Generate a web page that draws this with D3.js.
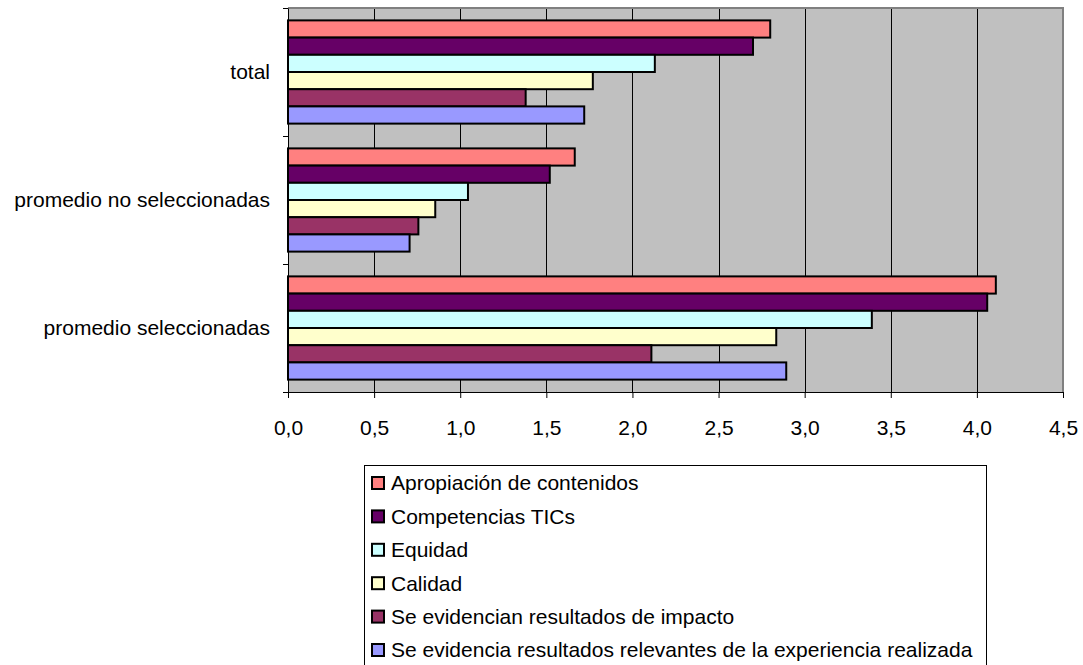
<!DOCTYPE html>
<html>
<head>
<meta charset="utf-8">
<script src="https://cdn.jsdelivr.net/npm/d3@7"></script>
<style>
  body { margin: 0; background: #fff; }
  svg text { font-family: "Liberation Sans", Arial, sans-serif; fill: #000; }
</style>
</head>
<body>
<svg id="drawing_region"></svg>
<script>
// chart data
const categories = ['total', 'promedio no seleccionadas', 'promedio seleccionadas'];
const series = [
    'Apropiación de contenidos',
    'Competencias TICs',
    'Equidad',
    'Calidad',
    'Se evidencian resultados de impacto',
    'Se evidencia resultados relevantes de la experiencia realizada'
];
const apropiacion  = [2.80, 1.665, 4.11];
const competencias = [2.70, 1.52, 4.06];
const equidad      = [2.13, 1.045, 3.39];
const calidad      = [1.77, 0.855, 2.835];
const impacto      = [1.38, 0.757, 2.11];
const relevantes   = [1.72, 0.706, 2.893];
const x_ticks = [0, 0.5, 1, 1.5, 2, 2.5, 3, 3.5, 4, 4.5];
const colors = ['#FF8080', '#660066', '#CCFFFF', '#FFFFCC', '#993366', '#9999FF'];

const values = [apropiacion, competencias, equidad, calidad, impacto, relevantes];

const config = {
    width: 1083,
    height: 665,
    margin: {top: 8, right: 20, bottom: 273, left: 288},
    font: '21px'
};

const svg = d3.select('#drawing_region')
    .attr('width', config.width)
    .attr('height', config.height);

const plot_right = config.width - config.margin.right;
const plot_bottom = config.height - config.margin.bottom;

const xscale = d3.scaleLinear()
    .domain([0, 4.5])
    .range([config.margin.left, plot_right]);

const yscale = d3.scaleBand()
    .domain(categories)
    .range([config.margin.top, plot_bottom])
    .padding(0);

const sscale = d3.scaleBand()
    .domain(series)
    .range([0, yscale.bandwidth()])
    .paddingInner(0)
    .paddingOuter(0.72);

// plot background
svg.append('rect')
    .attr('x', config.margin.left)
    .attr('y', config.margin.top)
    .attr('width', plot_right - config.margin.left)
    .attr('height', plot_bottom - config.margin.top)
    .attr('fill', '#C0C0C0');

// vertical gridlines
svg.append('g')
    .selectAll('line')
    .data(x_ticks.filter(d => d > 0 && d < 4.5))
    .enter()
    .append('line')
    .attr('x1', d => Math.round(xscale(d)) + 0.5)
    .attr('x2', d => Math.round(xscale(d)) + 0.5)
    .attr('y1', config.margin.top)
    .attr('y2', plot_bottom)
    .attr('stroke', '#000')
    .attr('stroke-width', 1);

// top and right border
svg.append('path')
    .attr('d', `M${config.margin.left},${config.margin.top}H${plot_right}V${plot_bottom}`)
    .attr('fill', 'none')
    .attr('stroke', '#808080')
    .attr('stroke-width', 2);

// bars
const flat = [];
categories.forEach((c, i) => {
    series.forEach((s, j) => {
        flat.push({cat: c, ser: s, idx: j, value: values[j][i]});
    });
});

svg.append('g')
    .selectAll('rect')
    .data(flat)
    .enter()
    .append('rect')
    .attr('x', xscale(0))
    .attr('y', d => yscale(d.cat) + sscale(d.ser))
    .attr('width', d => xscale(d.value) - xscale(0))
    .attr('height', sscale.bandwidth())
    .attr('fill', d => colors[d.idx])
    .attr('stroke', '#000')
    .attr('stroke-width', 2);

// x axis
const locale = d3.formatLocale({decimal: ',', thousands: '.', grouping: [3], currency: ['', '']});
const xaxis = d3.axisBottom(xscale)
    .tickValues(x_ticks)
    .tickFormat(locale.format('.1f'))
    .tickSize(6)
    .tickSizeOuter(0)
    .tickPadding(22);

const xg = svg.append('g')
    .attr('transform', `translate(0,${plot_bottom})`)
    .call(xaxis);
xg.select('.domain').attr('stroke', '#000').attr('stroke-width', 1);
xg.selectAll('.tick line').attr('stroke', '#000');
xg.selectAll('.tick text')
    .style('font-size', config.font)
    .style('font-family', '"Liberation Sans", Arial, sans-serif')
    .attr('fill', '#000');

// y axis
const yaxis = d3.axisLeft(d3.scaleLinear().domain([0, 3]).range([plot_bottom, config.margin.top]))
    .tickValues([0, 1, 2, 3])
    .tickSize(5)
    .tickSizeOuter(0)
    .tickFormat('');
const yg = svg.append('g')
    .attr('transform', `translate(${config.margin.left},0)`)
    .call(yaxis);
yg.select('.domain').attr('stroke', '#000');
yg.selectAll('.tick line').attr('stroke', '#000');

// category labels
svg.append('g')
    .selectAll('text')
    .data(categories)
    .enter()
    .append('text')
    .attr('x', 270)
    .attr('y', d => yscale(d) + yscale.bandwidth() / 2)
    .attr('dy', '0.35em')
    .attr('text-anchor', 'end')
    .style('font-size', config.font)
    .text(d => d);

// legend
const legend = svg.append('g');
legend.append('rect')
    .attr('x', 364.5)
    .attr('y', 465.5)
    .attr('width', 622)
    .attr('height', 205)
    .attr('fill', '#fff')
    .attr('stroke', '#000')
    .attr('stroke-width', 1);

const rows = legend.selectAll('g.row')
    .data(series)
    .enter()
    .append('g')
    .attr('class', 'row')
    .attr('transform', (d, i) => `translate(0,${483 + i * 33.4})`);

rows.append('rect')
    .attr('x', 372)
    .attr('y', -6)
    .attr('width', 12)
    .attr('height', 12)
    .attr('fill', (d, i) => colors[i])
    .attr('stroke', '#000')
    .attr('stroke-width', 2);

rows.append('text')
    .attr('x', 391)
    .attr('y', 0)
    .attr('dy', '0.35em')
    .style('font-size', config.font)
    .text(d => d);
</script>
</body>
</html>
